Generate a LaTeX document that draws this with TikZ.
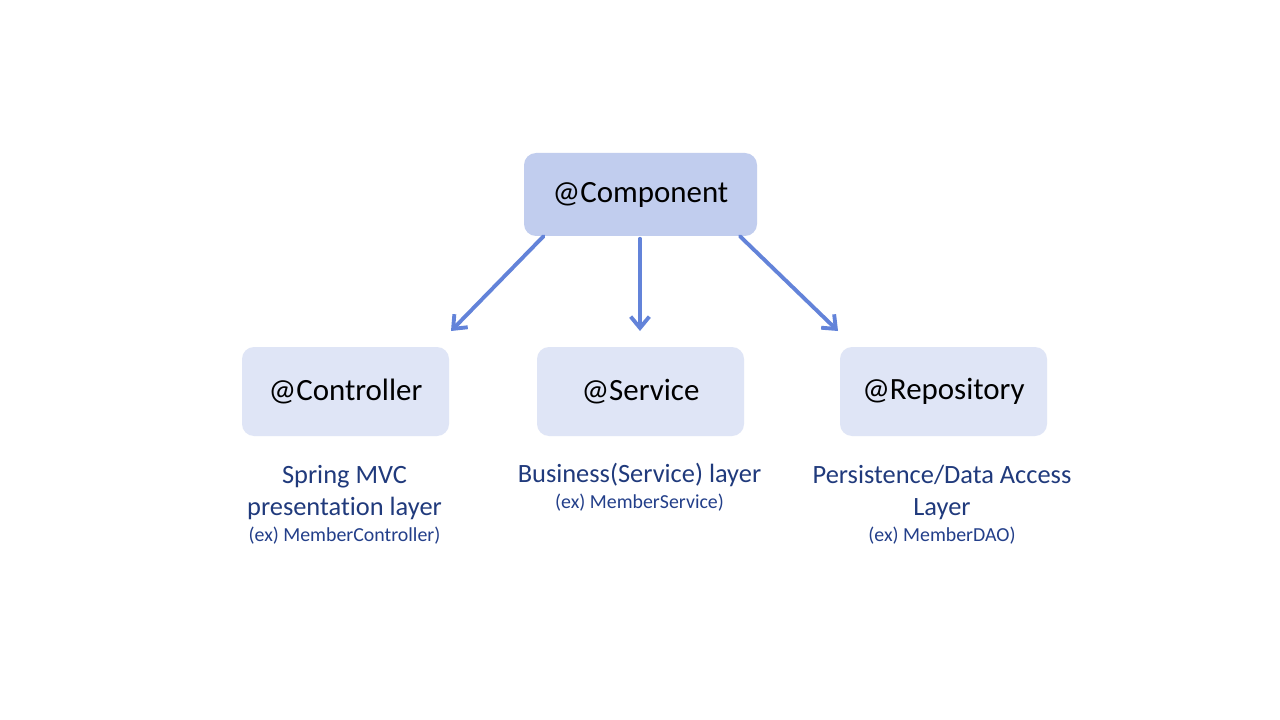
\documentclass[tikz,border=0pt]{standalone}
\usepackage{fontspec}
\setmainfont{Carlito}[Ligatures={NoCommon,NoContextual}]
\usetikzlibrary{arrows.meta,calc}
\definecolor{compfill}{HTML}{C1CDEE}
\definecolor{subfill}{HTML}{DFE5F6}
\definecolor{arrowblue}{HTML}{6383D9}
\definecolor{labelblue}{HTML}{203A7C}
\definecolor{smallblue}{HTML}{233F8A}
\begin{document}
\begin{tikzpicture}[x=0.75pt,y=-0.75pt,
  box/.style={rounded corners=9pt, inner sep=0pt, text=black,
    font=\fontsize{23.2}{27}\selectfont},
  topbox/.style={box, fill=compfill, minimum width=174.75pt, minimum height=62.25pt},
  subbox/.style={box, fill=subfill, minimum width=155.25pt, minimum height=66.75pt},
  lbl/.style={anchor=base, inner sep=0pt, text=labelblue, font=\fontsize{19.8}{24}\selectfont},
  small/.style={anchor=base, inner sep=0pt, text=smallblue, font=\fontsize{14.9}{18}\selectfont},
  arr/.style={draw=arrowblue, line width=2.9pt, line cap=round,
    -{Straight Barb[length=8.5pt,width=14pt,line width=2.9pt]}}
]
\useasboundingbox (0,0) rectangle (1280,720);
\fill[white] (0,0) rectangle (1280,720);

\node[topbox, text depth=3pt] (comp) at (640.5,194.5) {@Component};
\node[subbox] (ctrl) at (345.5,391.5) {@Controller};
\node[subbox] (serv) at (640.5,391.5) {@Service};
\node[subbox] (repo) at (943.5,391.5) {@Repository};

\coordinate (tipL) at (451,331);
\coordinate (tipM) at (640,331);
\coordinate (tipR) at (838,331);

\draw[arr] ($(comp.south)+(-97,0)$) -- (tipL);
\draw[arr] ($(comp.south)+(-0.5,2.5)$) -- (tipM);
\draw[arr] ($(comp.south)+(99.5,0)$) -- (tipR);

\node[lbl] (c1) at (344.5,483) {Spring MVC};
\node[lbl] (c2) at (344.5,515) {presentation layer};
\node[small] (c3) at (344.5,541) {(ex) MemberController)};

\node[lbl] (s1) at (639.5,482) {Business(Service) layer};
\node[small] (s2) at (639.5,508) {(ex) MemberService)};

\node[lbl] (r1) at (942,483) {Persistence/Data Access};
\node[lbl] (r2) at (942,515) {Layer};
\node[small] (r3) at (942,541) {(ex) MemberDAO)};
\end{tikzpicture}
\end{document}
